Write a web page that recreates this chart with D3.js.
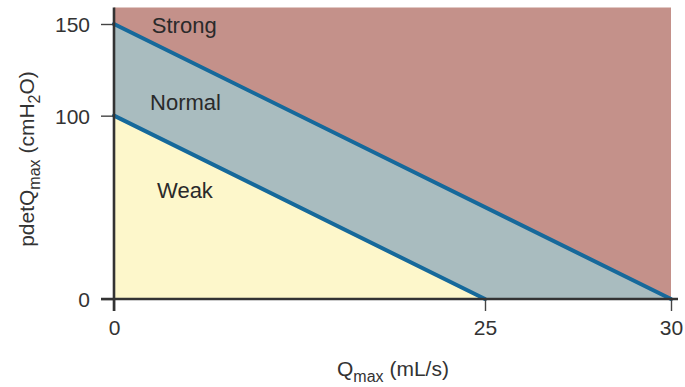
<!DOCTYPE html>
<html>
<head>
<meta charset="utf-8">
<script src="https://cdn.jsdelivr.net/npm/d3@7/dist/d3.min.js"></script>
<style>
  html, body { margin: 0; padding: 0; background: #fff; }
  svg { display: block; font-family: "Liberation Sans", Arial, Helvetica, sans-serif; }
</style>
</head>
<body>
<svg id="chart" width="685" height="387"></svg>
<script>
// ---- data ----
const xTicks = [0, 25, 30];
const yTicks = [0, 100, 150];
const regionNames = ["Strong", "Normal", "Weak"];
// boundary lines: [x-intercept (Qmax), y-intercept (pdetQmax)]
const strongNormalLine = [[0, 150], [30, 0]];
const normalWeakLine = [[0, 100], [25, 0]];
const yTop = 159;     // top of plotted region (pdetQmax)
const xRight = 30;    // right of plotted region (Qmax)
// label anchor points (data coords) for region names
const labelPoints = [[2.55, 145], [2.43, 103.3], [2.9, 55]];

// ---- layout ----
const svg = d3.select("#chart");
const left = 114, bottom = 299;
// the original figure is not drawn to scale on the x axis (0-25 compressed)
const x = d3.scaleLinear().domain([0, 25, 30]).range([left, 485, 671]);
const y = d3.scaleLinear().domain([0, 150]).range([bottom, 24]);

const colStrong = "#c4918a", colNormal = "#a9bcbf", colWeak = "#fdf7cb", colLine = "#16699b";

// regions
svg.append("rect")
  .attr("x", x(0)).attr("y", y(yTop))
  .attr("width", x(xRight) - x(0)).attr("height", y(0) - y(yTop))
  .attr("fill", colStrong);

const poly = d3.line().x(d => x(d[0])).y(d => y(d[1]));
svg.append("path")
  .attr("d", poly([[0, 0], ...strongNormalLine]) + "Z")
  .attr("fill", colNormal);
svg.append("path")
  .attr("d", poly([[0, 0], ...normalWeakLine]) + "Z")
  .attr("fill", colWeak);

// boundary lines
[strongNormalLine, normalWeakLine].forEach(l => {
  svg.append("path")
    .attr("d", poly(l))
    .attr("fill", "none")
    .attr("stroke", colLine)
    .attr("stroke-width", 4)
    .attr("stroke-linecap", "round");
});

// region labels
svg.selectAll("text.region").data(regionNames).join("text")
  .attr("class", "region")
  .attr("x", (d, i) => x(labelPoints[i][0]))
  .attr("y", (d, i) => y(labelPoints[i][1]))
  .attr("font-size", 22)
  .attr("fill", "#2a2a2a")
  .text(d => d);

// axes
const xAxis = d3.axisBottom(x).tickValues(xTicks).tickSize(12).tickSizeOuter(0).tickPadding(9);
const yAxis = d3.axisLeft(y).tickValues(yTicks).tickSize(13).tickSizeOuter(0).tickPadding(11);

const gx = svg.append("g").attr("transform", `translate(0,${bottom})`).call(xAxis);
const gy = svg.append("g").attr("transform", `translate(${left},0)`).call(yAxis);
[gx, gy].forEach(g => {
  g.select(".domain").remove();
  g.selectAll(".tick line").attr("stroke", "#444").attr("stroke-width", 1.4);
  g.selectAll(".tick text")
    .attr("font-size", 21)
    .attr("fill", "#333")
    .attr("font-family", "'Liberation Sans', Arial, sans-serif");
});
gy.selectAll(".tick text").attr("dy", "0.36em");

// axis lines
svg.append("line")
  .attr("x1", left - 13).attr("x2", x(xRight) + 7)
  .attr("y1", bottom).attr("y2", bottom)
  .attr("stroke", "#333").attr("stroke-width", 2.6);
svg.append("line")
  .attr("x1", left).attr("x2", left)
  .attr("y1", y(yTop)).attr("y2", bottom + 12)
  .attr("stroke", "#333").attr("stroke-width", 2.6);

// axis titles
const xt = svg.append("text")
  .attr("x", 337).attr("y", 376)
  .attr("font-size", 21).attr("fill", "#333");
xt.append("tspan").text("Q");
xt.append("tspan").attr("font-size", 16).attr("dy", 6).text("max");
xt.append("tspan").attr("dy", -6).text(" (mL/s)");

const yt = svg.append("text")
  .attr("transform", "translate(34,159) rotate(-90)")
  .attr("text-anchor", "middle")
  .attr("font-size", 21).attr("fill", "#333");
yt.append("tspan").text("pdetQ");
yt.append("tspan").attr("font-size", 16).attr("dy", 6).text("max");
yt.append("tspan").attr("dy", -6).text(" (cmH");
yt.append("tspan").attr("font-size", 16).attr("dy", 6).text("2");
yt.append("tspan").attr("dy", -6).text("O)");
</script>
</body>
</html>
